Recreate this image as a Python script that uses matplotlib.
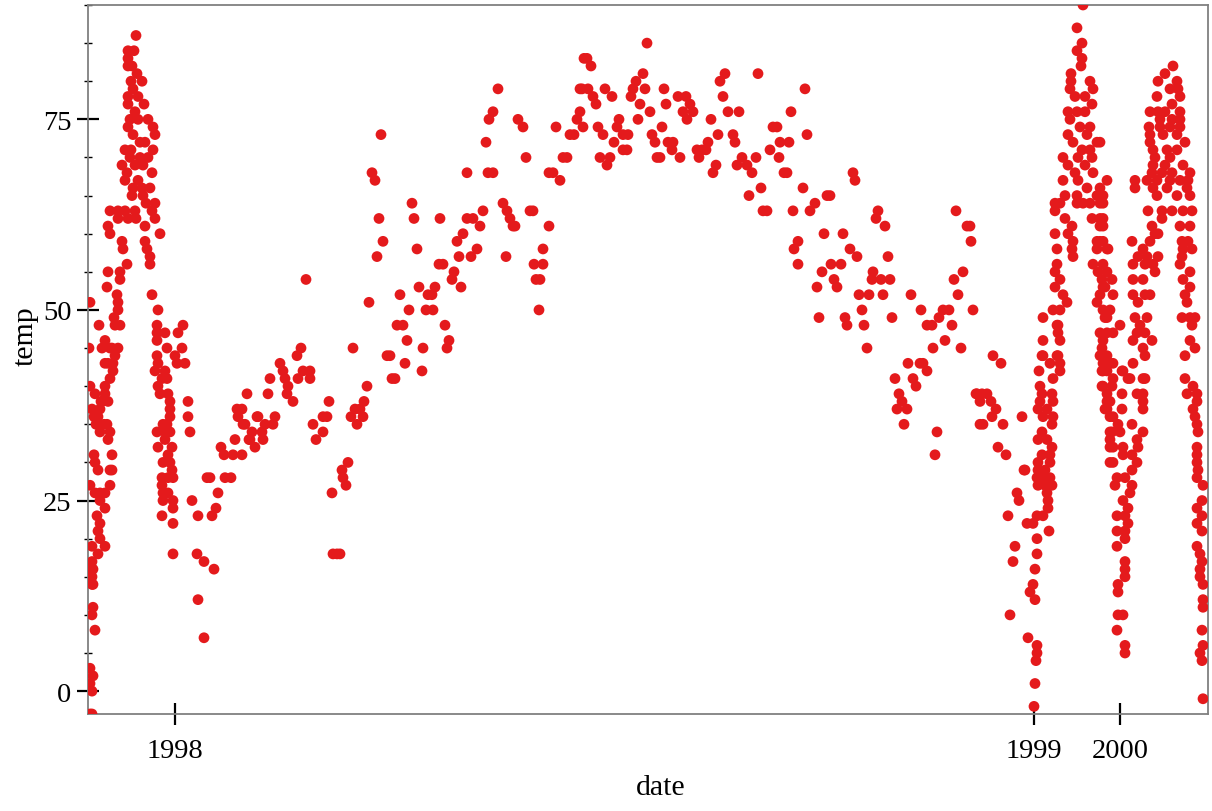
import matplotlib
matplotlib.use("Agg")
import matplotlib.pyplot as plt
import numpy as np
from matplotlib.ticker import MultipleLocator

plt.rcParams['font.family'] = ['Liberation Serif', 'DejaVu Serif']

# position along the date axis (axis units) and the year ticks
year_ticks = [87, 946, 1032]
year_labels = ['1998', '1999', '2000']

# (date position, temp), one list per stretch of the axis
winter_97 = [
    (2, 40), (20, 43), (25, 42), (22, 41), (17, 40), (7, 39), (13, 38), (17, 39), (4, 37), (12, 37),
    (14, 38), (8, 35), (16, 35), (12, 34), (20, 33), (22, 34), (6, 36), (6, 31), (7, 30), (10, 29),
    (22, 29), (24, 29), (22, 27), (2, 27), (7, 26), (12, 26), (17, 26), (12, 25), (17, 24), (9, 23),
    (12, 22), (10, 21), (12, 20), (17, 19), (10, 18), (4, 19), (4, 17), (5, 16), (2, 16), (4, 15),
    (4, 14), (5, 14), (5, 11), (4, 10), (7, 8), (2, 3), (5, 2), (2, 1), (4, 0), (4, -3), (2, -3),
    (2, 51), (1, 45), (11, 48), (26, 49), (27, 48), (32, 48), (17, 46), (14, 45), (24, 45), (30, 45),
    (17, 43), (25, 43), (19, 53), (29, 52), (30, 51), (30, 50), (32, 54), (20, 55), (32, 55), (39, 56),
    (22, 45), (27, 44), (20, 38), (10, 36), (24, 31), (19, 35),
]
summer_97 = [
    (48, 86), (40, 84), (46, 84), (40, 83), (44, 82), (40, 82), (49, 81), (54, 80), (43, 80), (45, 79),
    (40, 78), (50, 78), (56, 77), (40, 77), (47, 76), (42, 75), (50, 75), (60, 75), (65, 74), (67, 73),
    (40, 74), (45, 73), (57, 72), (37, 71), (43, 71), (52, 70), (65, 71), (34, 69), (39, 68), (47, 69),
    (55, 69), (64, 68), (37, 67), (45, 66), (54, 66), (62, 66), (44, 65), (55, 65), (67, 64), (37, 63),
    (22, 63), (30, 63), (47, 63), (64, 63), (20, 61), (30, 62), (40, 62), (57, 61), (67, 62), (22, 60),
    (34, 59), (57, 59), (72, 60), (35, 58), (59, 58), (62, 57), (62, 56),
    (52, 72), (60, 70), (50, 67), (58, 64), (42, 70), (48, 62),
]
fall_97 = [
    (64, 52), (70, 50), (69, 48), (77, 47), (69, 47), (69, 46), (79, 45), (69, 44), (70, 43), (95, 48),
    (90, 47), (94, 45), (87, 44), (97, 43), (67, 42), (77, 42), (74, 41), (79, 41), (89, 43), (70, 40),
    (72, 39), (80, 39), (82, 38), (82, 37), (100, 36), (82, 36), (79, 35), (69, 34), (77, 34), (75, 35),
    (82, 34), (77, 33), (84, 32), (70, 32), (80, 31), (75, 30), (82, 30), (84, 29), (74, 28), (80, 28),
    (74, 27), (85, 28), (75, 26), (80, 26), (75, 25), (85, 25), (102, 34), (104, 25), (74, 23), (85, 24),
    (85, 22), (85, 18), (100, 38),
]
spring_98 = [
    (110, 23), (109, 18), (116, 17), (126, 16), (110, 12), (116, 7), (124, 23), (128, 24), (130, 26),
    (119, 28), (122, 28), (137, 28), (143, 28), (133, 32), (136, 31), (145, 31), (154, 31), (149, 37),
    (150, 36), (157, 35), (147, 33), (161, 33), (164, 34), (167, 32), (169, 36), (155, 35), (154, 37),
    (159, 39), (162, 33), (175, 33), (174, 34), (170, 36), (177, 35), (185, 35), (187, 36), (180, 39),
    (182, 41), (192, 43), (195, 42), (197, 41), (200, 40), (199, 39), (205, 38), (209, 44), (213, 45),
    (215, 42), (222, 42), (210, 41), (222, 41), (218, 54), (225, 35), (228, 33), (235, 34), (235, 36),
    (239, 36), (241, 38), (244, 26), (254, 29), (255, 28), (258, 27), (260, 30), (245, 18), (249, 18),
    (252, 18), (263, 36), (267, 37), (269, 35), (272, 37), (275, 36), (276, 38), (279, 40), (265, 45),
    (281, 51), (289, 57), (291, 62), (295, 59), (293, 73), (284, 68), (287, 67), (299, 44), (302, 44),
    (304, 41), (307, 41), (317, 43), (334, 42), (309, 48), (315, 48), (319, 46), (312, 52), (321, 50),
    (324, 64), (326, 62), (329, 58), (331, 53), (335, 45), (338, 50), (345, 50), (340, 52), (344, 52),
    (347, 53), (352, 62), (351, 56), (355, 56), (357, 48), (361, 46), (359, 45), (364, 54), (366, 55),
    (369, 59), (371, 57), (373, 53), (375, 60), (379, 62), (385, 62), (383, 57), (389, 58), (392, 61),
    (395, 63), (379, 68), (401, 75), (410, 79), (405, 76), (398, 72), (400, 68), (405, 68),
]
summer_98 = [
    (415, 64), (419, 63), (422, 62), (425, 61), (427, 61), (418, 57), (430, 75), (435, 74), (438, 70),
    (442, 63), (445, 63), (446, 56), (455, 56), (448, 54), (452, 54), (451, 50), (455, 58), (461, 61),
    (461, 68), (465, 68), (468, 74), (472, 67), (475, 70), (479, 70), (482, 73), (486, 73), (489, 75),
    (492, 76), (494, 79), (559, 85), (496, 83), (499, 83), (503, 82), (492, 79), (500, 79), (505, 78),
    (508, 77), (517, 79), (524, 78), (495, 74), (510, 74), (515, 73), (526, 72), (531, 75), (529, 74),
    (535, 73), (540, 73), (512, 70), (522, 70), (519, 69), (535, 71), (539, 71), (543, 78), (545, 79),
    (548, 80), (555, 81), (557, 79), (552, 77), (562, 76), (550, 75), (564, 73), (567, 72), (574, 74),
    (569, 70), (572, 70), (576, 79), (578, 77), (580, 72), (585, 72), (584, 71), (592, 70), (590, 78),
    (598, 78), (595, 76), (602, 77), (605, 76), (599, 75), (609, 71), (614, 71), (618, 71), (620, 72),
    (611, 70), (623, 75), (625, 68), (628, 69), (630, 73), (632, 80), (637, 81), (635, 78), (640, 76),
    (651, 76), (645, 73), (647, 72), (649, 69), (654, 70), (659, 69), (664, 68), (668, 70), (670, 81),
    (661, 65), (673, 66), (675, 63), (679, 63), (682, 71), (685, 74), (689, 74), (691, 70), (696, 68),
    (699, 68), (692, 72), (701, 72), (703, 76), (717, 79), (719, 73),
]
fall_98 = [
    (705, 63), (715, 66), (722, 63), (727, 64), (739, 65), (742, 65), (710, 59), (706, 58), (710, 56),
    (736, 60), (755, 60), (734, 55), (729, 53), (746, 54), (749, 53), (762, 58), (769, 57), (743, 56),
    (753, 56), (731, 49), (757, 49), (759, 48), (765, 68), (767, 67), (771, 52), (781, 52), (774, 50),
    (776, 48), (779, 45), (785, 55), (784, 54), (793, 54), (802, 54), (795, 52), (800, 57), (804, 49),
    (790, 63), (788, 62), (797, 61), (823, 52), (833, 50), (839, 48), (844, 48), (845, 45), (851, 49),
    (855, 50), (861, 50), (864, 48), (857, 46), (866, 54), (875, 55), (870, 52), (873, 45), (885, 50),
    (868, 63), (879, 61), (882, 61), (883, 59), (807, 41), (811, 39), (814, 38), (809, 37), (819, 37),
    (816, 35), (820, 43), (832, 43), (835, 43), (825, 41), (828, 40), (839, 42), (849, 34), (847, 31),
    (888, 39), (892, 35), (889, 39), (894, 39), (899, 39), (892, 38), (903, 38), (895, 35), (908, 37),
    (904, 36), (915, 35), (905, 44), (913, 43), (910, 32), (918, 31), (934, 36), (936, 29), (920, 23),
    (929, 26), (931, 25), (927, 19), (925, 17), (922, 10),
]
winter_99 = [
    (955, 44), (970, 44), (972, 43), (962, 43), (972, 42), (951, 42), (965, 41), (952, 40), (954, 39),
    (952, 38), (964, 39), (965, 38), (950, 37), (959, 37), (955, 36), (965, 36), (964, 35), (954, 34),
    (950, 33), (959, 33), (964, 32), (954, 31), (950, 30), (962, 31), (950, 29), (957, 29), (962, 30),
    (949, 28), (955, 28), (962, 28), (950, 27), (957, 27), (964, 27), (959, 26), (960, 25), (960, 24),
    (937, 29), (949, 23), (955, 23), (939, 22), (945, 22), (961, 21), (949, 20), (949, 18), (947, 16),
    (945, 14), (942, 13), (947, 12), (940, 7), (949, 6), (949, 5), (948, 4), (947, 1), (946, -2),
    (955, 49), (970, 48), (969, 48), (970, 47), (955, 46), (972, 46), (969, 44), (954, 44),
]
summer_99 = [
    (995, 90), (989, 87), (994, 85), (989, 84), (994, 83), (993, 82), (983, 81), (983, 80), (1002, 80),
    (982, 79), (1005, 79), (987, 78), (997, 78), (1004, 77), (980, 76), (989, 76), (997, 76), (982, 75),
    (1002, 74), (992, 74), (980, 73), (999, 73), (1009, 72), (985, 72), (994, 71), (1002, 71), (1004, 70),
    (975, 70), (980, 69), (990, 70), (997, 69), (1005, 68), (987, 68), (990, 67), (975, 67), (999, 66),
    (1012, 66), (1019, 67), (977, 65), (989, 65), (995, 64), (1009, 65), (1015, 64), (1002, 64),
    (967, 64), (972, 64), (967, 63), (989, 64), (1012, 64), (1004, 62), (1012, 62), (1012, 61),
    (977, 62), (984, 61), (967, 60), (980, 60), (985, 59), (969, 58), (984, 58), (985, 57), (969, 56),
    (967, 55), (972, 54), (967, 53), (975, 52), (979, 51), (965, 50), (972, 50),
]
fall_99 = [
    (1009, 59), (1015, 59), (1009, 58), (1019, 58), (1005, 56), (1010, 55), (1014, 54), (1017, 53),
    (1012, 52), (1009, 51), (1015, 50), (1017, 49), (1012, 47), (1014, 45), (1012, 44), (1019, 47),
    (1015, 43), (1022, 43), (1015, 42), (1014, 40), (1019, 39), (1019, 38), (1017, 37), (1022, 36),
    (1022, 34), (1022, 33), (1022, 32), (1022, 30), (1012, 72), (1015, 65), (1015, 62), (1015, 61),
    (1012, 59), (1020, 58), (1015, 56), (1019, 55), (1024, 54), (1015, 53), (1025, 52), (1022, 50),
    (1032, 48), (1019, 49), (1025, 47), (1015, 46), (1019, 44), (1025, 43), (1035, 42), (1014, 42),
    (1019, 42), (1034, 42), (1025, 41), (1042, 41), (1015, 40), (1024, 40), (1034, 39), (1022, 38),
    (1019, 37), (1034, 37), (1025, 36), (1030, 35), (1024, 34), (1032, 34), (1025, 32), (1035, 32),
    (1025, 30), (1035, 31), (1029, 28), (1037, 28), (1027, 27), (1035, 25), (1040, 24), (1029, 23),
    (1037, 23), (1040, 22), (1037, 21), (1029, 21), (1037, 20), (1029, 19), (1037, 17), (1037, 16),
    (1037, 15), (1030, 14), (1030, 13), (1030, 10), (1035, 10), (1029, 8), (1037, 6), (1037, 5),
]
spring_00 = [
    (1047, 67), (1047, 66), (1044, 59), (1062, 59), (1055, 58), (1050, 57), (1059, 57), (1070, 57),
    (1057, 56), (1065, 56), (1045, 56), (1067, 55), (1045, 54), (1055, 54), (1045, 52), (1057, 52),
    (1050, 51), (1062, 52), (1047, 49), (1059, 49), (1052, 48), (1049, 47), (1057, 47), (1064, 46),
    (1045, 46), (1055, 45), (1045, 43), (1057, 44), (1057, 41), (1040, 41), (1055, 41), (1049, 39),
    (1055, 39), (1055, 38), (1055, 37), (1044, 35), (1055, 34), (1049, 33), (1050, 32), (1044, 31),
    (1049, 30), (1044, 29), (1044, 27), (1042, 26), (1064, 61), (1067, 60), (1070, 60),
]
summer_00 = [
    (1085, 82), (1077, 81), (1070, 80), (1089, 80), (1082, 79), (1090, 79), (1069, 78), (1092, 78),
    (1084, 77), (1062, 76), (1070, 76), (1077, 76), (1092, 76), (1072, 75), (1084, 75), (1092, 75),
    (1061, 74), (1072, 74), (1082, 74), (1092, 74), (1062, 73), (1075, 73), (1089, 73), (1097, 72),
    (1062, 72), (1065, 71), (1079, 71), (1089, 71), (1067, 70), (1082, 70), (1065, 69), (1077, 69),
    (1095, 69), (1102, 68), (1064, 68), (1074, 68), (1084, 68), (1059, 67), (1069, 67), (1082, 67),
    (1092, 67), (1100, 67), (1065, 66), (1079, 66), (1099, 66), (1069, 65), (1089, 65), (1102, 65),
    (1060, 63), (1074, 63), (1084, 63), (1095, 63), (1104, 63), (1074, 62), (1092, 61), (1102, 61),
]
fall_00 = [
    (1094, 59), (1100, 59), (1095, 58), (1104, 58), (1094, 57), (1092, 56), (1102, 55), (1095, 54),
    (1102, 53), (1097, 52), (1099, 51), (1094, 49), (1102, 49), (1107, 49), (1104, 48), (1102, 46),
    (1107, 45), (1097, 44), (1097, 41), (1105, 40), (1109, 39), (1099, 39), (1109, 38), (1105, 37),
    (1107, 36), (1109, 35), (1110, 34), (1109, 32), (1109, 31), (1109, 30), (1110, 29), (1109, 28),
    (1115, 27), (1114, 25), (1109, 24), (1114, 23), (1109, 22), (1114, 21), (1109, 19), (1112, 18),
    (1114, 17), (1112, 16), (1112, 15), (1115, 14), (1115, 12), (1115, 11), (1114, 8), (1115, 6),
    (1112, 5), (1114, 4), (1115, -1),
]

series = [winter_97, summer_97, fall_97, spring_98, summer_98, fall_98,
          winter_99, summer_99, fall_99, spring_00, summer_00, fall_00]
date_pos = np.array([p for s in series for p, t in s])
temp = np.array([t for s in series for p, t in s])

fig = plt.figure(figsize=(12.12, 8.12), dpi=100)
ax = fig.add_axes([88 / 1212, 97 / 812, 1120 / 1212, 709 / 812])

ax.scatter(date_pos, temp, s=60, color='#e41a1c', edgecolors='none', zorder=3)

ax.set_xlim(0, 1120)
ax.set_ylim(-3, 90)

ax.set_xticks(year_ticks)
ax.set_xticklabels(year_labels)
ax.set_yticks([0, 25, 50, 75])
ax.yaxis.set_minor_locator(MultipleLocator(5))

ax.tick_params(axis='both', which='major', direction='inout', length=16, width=1.6,
               color='black', labelsize=20.5)
ax.tick_params(axis='x', which='major', pad=9)
ax.tick_params(axis='y', which='major', pad=4)
ax.tick_params(axis='y', which='minor', direction='inout', length=6, width=1.0, color='black')

for side in ['left', 'bottom', 'top', 'right']:
    ax.spines[side].set_color('#808080')
    ax.spines[side].set_linewidth(1.3)

fig.text(661 / 1212, 1 - 788 / 812, 'date', ha='center', va='center', fontsize=21.5)
fig.text(26 / 1212, 1 - 336 / 812, 'temp', ha='center', va='center', rotation=90, fontsize=21.5)

fig.savefig('out.png', dpi=100)
